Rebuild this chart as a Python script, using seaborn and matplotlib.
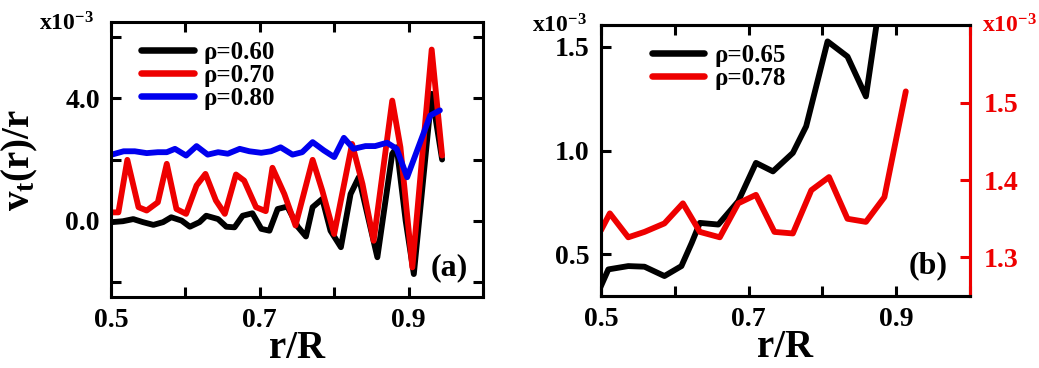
import numpy as np
import pandas as pd
import matplotlib
matplotlib.use("Agg")
import matplotlib.pyplot as plt
import seaborn as sns

# ---------------- data (panel a), values in units of 1e-3 ----------------
a_x_060 = [0.501, 0.516, 0.530, 0.543, 0.557, 0.570, 0.581, 0.595, 0.606, 0.619, 0.628, 0.644,
           0.655, 0.666, 0.677, 0.690, 0.702, 0.713, 0.724, 0.737, 0.751, 0.762, 0.771, 0.784,
           0.795, 0.809, 0.822, 0.833, 0.858, 0.878, 0.884, 0.896, 0.907, 0.931, 0.945]
a_y_060 = [-0.05, -0.02, 0.05, -0.05, -0.14, -0.05, 0.11, 0.00, -0.20, -0.05, 0.16, 0.05,
           -0.20, -0.22, 0.16, 0.24, -0.27, -0.33, 0.38, 0.46, -0.20, -0.52, 0.44, 0.71,
           -0.33, -0.87, 0.87, 1.42, -1.20, 2.19, 2.40, 0.00, -1.75, 4.15, 2.00]

a_x_070 = [0.501, 0.510, 0.522, 0.537, 0.548, 0.563, 0.575, 0.588, 0.601, 0.615, 0.627, 0.641,
           0.653, 0.668, 0.679, 0.695, 0.708, 0.717, 0.733, 0.748, 0.771, 0.784, 0.800, 0.824,
           0.838, 0.853, 0.878, 0.889, 0.905, 0.931, 0.945]
a_y_070 = [0.27, 0.27, 1.99, 0.44, 0.33, 0.60, 1.86, 0.38, 0.22, 1.15, 1.53, 0.66,
           0.22, 1.51, 1.31, 0.44, 0.31, 1.73, 0.87, -0.16, 1.99, 0.98, -0.44, 2.51,
           1.20, -0.66, 3.93, 2.40, -1.53, 5.60, 2.13]

a_x_080 = [0.501, 0.517, 0.532, 0.548, 0.563, 0.575, 0.586, 0.601, 0.615, 0.630, 0.644, 0.657,
           0.673, 0.686, 0.702, 0.715, 0.728, 0.744, 0.757, 0.771, 0.786, 0.800, 0.813, 0.826,
           0.842, 0.855, 0.871, 0.884, 0.898, 0.913, 0.929, 0.942]
a_y_080 = [2.16, 2.27, 2.27, 2.21, 2.24, 2.24, 2.35, 2.13, 2.44, 2.16, 2.24, 2.19,
           2.35, 2.27, 2.22, 2.27, 2.40, 2.16, 2.24, 2.57, 2.30, 2.08, 2.71, 2.35,
           2.44, 2.44, 2.55, 2.35, 1.42, 2.40, 3.44, 3.61]

# ---------------- data (panel b), values in units of 1e-3 ----------------
b_x_065 = [0.499, 0.510, 0.537, 0.559, 0.586, 0.609, 0.623, 0.634, 0.659, 0.686, 0.710,
           0.733, 0.760, 0.778, 0.807, 0.834, 0.859, 0.873, 0.885]
b_y_065 = [0.34, 0.428, 0.444, 0.441, 0.396, 0.444, 0.556, 0.652, 0.644, 0.756, 0.941,
           0.900, 0.989, 1.117, 1.526, 1.453, 1.261, 1.598, 2.000]

b_x_078 = [0.500, 0.512, 0.537, 0.559, 0.586, 0.611, 0.634, 0.661, 0.686, 0.710, 0.735,
           0.760, 0.785, 0.809, 0.834, 0.859, 0.884, 0.913]
b_y_078 = [1.335, 1.357, 1.326, 1.333, 1.344, 1.370, 1.333, 1.326, 1.370, 1.381, 1.333,
           1.331, 1.387, 1.404, 1.350, 1.346, 1.378, 1.515]

labels_a = ["ρ=0.60", "ρ=0.70", "ρ=0.80"]
labels_b = ["ρ=0.65", "ρ=0.78"]
x_ticks = [0.5, 0.6, 0.7, 0.8, 0.9, 1.0]
x_ticklabels = ["0.5", "", "0.7", "", "0.9", ""]
a_yticks = [-2.0, 0.0, 2.0, 4.0, 6.0]
a_yticklabels = ["", "0.0", "", "4.0", ""]
b_yticks_left = [0.5, 1.0, 1.5]
b_yticklabels_left = ["0.5", "1.0", "1.5"]
b_yticks_right = [1.3, 1.4, 1.5]
b_yticklabels_right = ["1.3", "1.4", "1.5"]

# ---------------- style ----------------
sns.set_theme(style="ticks")
plt.rcParams["font.family"] = ["Liberation Serif", "DejaVu Serif"]
plt.rcParams["font.weight"] = "bold"
plt.rcParams["mathtext.fontset"] = "custom"
plt.rcParams["mathtext.rm"] = "Liberation Serif:bold"
plt.rcParams["mathtext.bf"] = "Liberation Serif:bold"
plt.rcParams["mathtext.it"] = "Liberation Serif:bold"
for k in ["text.color", "axes.labelcolor", "xtick.color", "ytick.color", "axes.edgecolor"]:
    plt.rcParams[k] = "black"

RED = "#ee0000"
BLUE = "#0000ee"
LW = 4.2
SPW = 2.2
TICKFS = 20
LEGFS = 18
XLABFS = 28

fig = plt.figure(figsize=(10.39, 3.68), dpi=100)
axA = fig.add_axes([0.1068, 0.193, 0.3581, 0.747])
axB = fig.add_axes([0.5784, 0.1957, 0.3552, 0.7364])


def style_axes(ax, right=True):
    for s in ax.spines.values():
        s.set_linewidth(SPW)
        s.set_color("black")
    ax.tick_params(direction="in", length=7.5, width=SPW, top=True, right=right,
                   labelsize=TICKFS, pad=8, colors="black")
    for lab in ax.get_xticklabels() + ax.get_yticklabels():
        lab.set_fontweight("bold")


def style_legend(leg):
    for t in leg.get_texts():
        t.set_fontweight("bold")
        t.set_color("black")
    for l in leg.get_lines():
        l.set_linewidth(LW + 0.5)


# panel (a)
df_a = pd.concat([
    pd.DataFrame({"x": a_x_060, "y": a_y_060, "s": labels_a[0]}),
    pd.DataFrame({"x": a_x_070, "y": a_y_070, "s": labels_a[1]}),
    pd.DataFrame({"x": a_x_080, "y": a_y_080, "s": labels_a[2]}),
])
sns.lineplot(data=df_a, x="x", y="y", hue="s", hue_order=labels_a,
             palette=["#000000", RED, BLUE], estimator=None, sort=False,
             linewidth=LW, ax=axA)
axA.set_xlim(0.5, 1.0)
axA.set_ylim(-2.5, 6.5)
axA.set_xticks(x_ticks)
axA.set_xticklabels(x_ticklabels)
axA.set_yticks(a_yticks)
axA.set_yticklabels(a_yticklabels)
axA.set_xlabel("r/R", fontsize=XLABFS, fontweight="bold", labelpad=-2)
axA.set_ylabel(r"$\mathbf{v_t(r)/r}$", fontsize=28)
axA.yaxis.set_label_coords(-0.19, 0.5)
style_axes(axA)
legA = axA.legend(loc="upper left", bbox_to_anchor=(0.035, 0.995), frameon=False,
                  fontsize=LEGFS, handlelength=2.1, handletextpad=0.4, labelspacing=0.0,
                  borderaxespad=0.3)
style_legend(legA)
axA.text(0.958, 0.055, "(a)", transform=axA.transAxes, ha="right", va="bottom",
         fontsize=23, fontweight="bold")
fig.text(0.038, 0.918, r"x10$^{\mathbf{-3}}$", fontsize=17, fontweight="bold",
         ha="left", va="baseline")

# panel (b)
df_b1 = pd.DataFrame({"x": b_x_065, "y": b_y_065})
df_b2 = pd.DataFrame({"x": b_x_078, "y": b_y_078})
sns.lineplot(data=df_b1, x="x", y="y", color="black", estimator=None, sort=False,
             linewidth=LW, ax=axB, label=labels_b[0])
axB.set_xlim(0.5, 1.0)
axB.set_ylim(0.30, 1.605)
axB.set_xticks(x_ticks)
axB.set_xticklabels(x_ticklabels)
axB.set_yticks(b_yticks_left)
axB.set_yticklabels(b_yticklabels_left)
axB.set_xlabel("r/R", fontsize=XLABFS, fontweight="bold", labelpad=-2)
axB.set_ylabel("")
style_axes(axB, right=False)

axR = axB.twinx()
sns.lineplot(data=df_b2, x="x", y="y", color=RED, estimator=None, sort=False,
             linewidth=LW, ax=axR, label=labels_b[1])
axR.set_ylim(1.25, 1.601)
axR.set_yticks(b_yticks_right)
axR.set_yticklabels(b_yticklabels_right)
axR.set_ylabel("")
for name, s in axR.spines.items():
    s.set_linewidth(SPW)
    s.set_color("black")
axR.spines["right"].set_color(RED)
axR.tick_params(axis="y", direction="in", length=7.5, width=SPW, colors=RED,
                labelsize=TICKFS, pad=10)
for lab in axR.get_yticklabels():
    lab.set_fontweight("bold")
axR.set_xlim(0.5, 1.0)

hb, lb = axB.get_legend_handles_labels()
hr, lr = axR.get_legend_handles_labels()
if axB.get_legend():
    axB.get_legend().remove()
if axR.get_legend():
    axR.get_legend().remove()
legB = axR.legend(hb + hr, lb + lr, loc="upper left", bbox_to_anchor=(0.09, 0.995),
                  frameon=False, fontsize=LEGFS, handlelength=2.1, handletextpad=0.4,
                  labelspacing=0.0, borderaxespad=0.3)
style_legend(legB)
axB.text(0.938, 0.059, "(b)", transform=axB.transAxes, ha="right", va="bottom",
         fontsize=23, fontweight="bold")
fig.text(0.512, 0.913, r"x10$^{\mathbf{-3}}$", fontsize=17, fontweight="bold",
         ha="left", va="baseline")
fig.text(0.945, 0.913, r"x10$^{\mathbf{-3}}$", fontsize=17, fontweight="bold",
         ha="left", va="baseline", color=RED)

fig.savefig("out.png", dpi=100)
